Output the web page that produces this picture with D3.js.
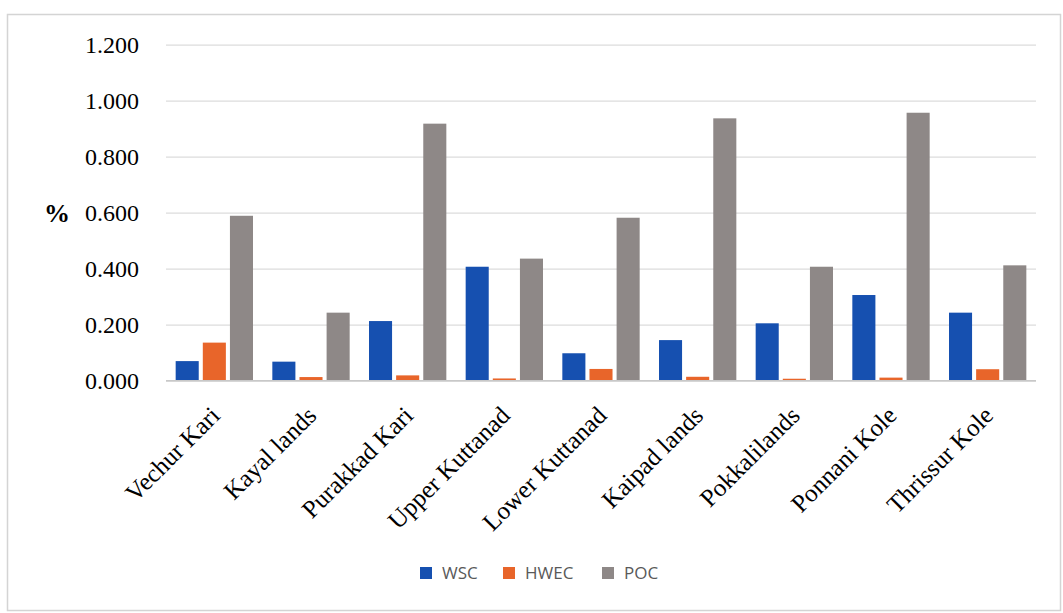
<!DOCTYPE html>
<html>
<head>
<meta charset="utf-8">
<script src="https://cdn.jsdelivr.net/npm/d3@7"></script>
<style>
  body { margin: 0; background: #fff; }
  svg { display: block; }
</style>
</head>
<body>
<svg id="chart" width="1063" height="613"></svg>
<script>
// values
var categories = ['Vechur Kari', 'Kayal lands', 'Purakkad Kari', 'Upper Kuttanad', 'Lower Kuttanad',
    'Kaipad lands', 'Pokkalilands', 'Ponnani Kole', 'Thrissur Kole'];
var seriesNames = ['WSC', 'HWEC', 'POC'];
var wsc = [0.070, 0.068, 0.213, 0.407, 0.098, 0.145, 0.205, 0.306, 0.243];
var hwec = [0.136, 0.013, 0.019, 0.008, 0.042, 0.014, 0.007, 0.011, 0.041];
var poc = [0.589, 0.243, 0.918, 0.436, 0.582, 0.937, 0.407, 0.957, 0.412];
var yTicks = [0, 0.2, 0.4, 0.6, 0.8, 1.0, 1.2];
var colors = ['#1650b0', '#e8652a', '#8e8887'];

var values = [wsc, hwec, poc];
var svg = d3.select('#chart');
var serif = '"Liberation Serif", "Times New Roman", serif';

// outer frame
svg.append('rect').attr('x', 7.5).attr('y', 14.5).attr('width', 1053).attr('height', 596)
    .attr('fill', 'none').attr('stroke', '#d4d4d4').attr('stroke-width', 1.5);

var left = 166, right = 1036;
var y = d3.scaleLinear().domain([0, 1.2]).range([380.7, 44.7]);
var x0 = d3.scaleBand().domain(categories).range([left, right]).paddingInner(0.2).paddingOuter(0.1);
var x1 = d3.scaleBand().domain(seriesNames).range([0, x0.bandwidth()]).paddingInner(0.15);

// grid + tick labels
var yAxis = d3.axisLeft(y).tickValues(yTicks).tickFormat(d3.format('.3f'))
    .tickSize(-(right - left)).tickPadding(27);
var ga = svg.append('g').attr('transform', 'translate(' + left + ',0)').call(yAxis);
ga.select('.domain').remove();
ga.selectAll('.tick line').attr('stroke', '#dcdcdc').attr('stroke-width', 1.3);
ga.selectAll('.tick text').attr('fill', '#000').style('font-family', serif)
    .style('font-size', '24px');

svg.append('text').attr('x', 44).attr('y', y(0.6)).attr('dy', '0.35em')
    .style('font-family', serif).style('font-size', '26px').style('font-weight', 'bold')
    .attr('fill', '#000').text('%');

// bars
var groups = svg.append('g').selectAll('g').data(categories).enter().append('g')
    .attr('transform', function (c) { return 'translate(' + x0(c) + ',0)'; });
groups.selectAll('rect').data(function (c, i) {
    return seriesNames.map(function (s, j) { return {s: s, v: values[j][i], j: j}; });
}).enter().append('rect')
    .attr('x', function (d) { return x1(d.s); })
    .attr('y', function (d) { return y(d.v); })
    .attr('width', x1.bandwidth())
    .attr('height', function (d) { return y(0) - y(d.v); })
    .attr('fill', function (d) { return colors[d.j]; });

// baseline
svg.append('line').attr('x1', left).attr('x2', right).attr('y1', y(0)).attr('y2', y(0))
    .attr('stroke', '#c8c8c8').attr('stroke-width', 1.5);

// category labels, rotated
svg.append('g').selectAll('text').data(categories).enter().append('text')
    .attr('transform', function (c) {
        return 'translate(' + (x0(c) + x0.bandwidth() / 2 + 7) + ',' + 417 + ') rotate(-45)';
    })
    .attr('text-anchor', 'end')
    .style('font-family', serif).style('font-size', '25px')
    .attr('fill', '#000')
    .text(function (c) { return c; });

// legend
var legendX = [420, 503, 602];
var lg = svg.append('g').selectAll('g').data(seriesNames).enter().append('g')
    .attr('transform', function (s, i) { return 'translate(' + legendX[i] + ',567)'; });
lg.append('rect').attr('width', 12).attr('height', 12)
    .attr('fill', function (s, i) { return colors[i]; });
lg.append('text').attr('x', 22).attr('y', 6).attr('dy', '0.36em')
    .style('font-family', '"Open Sans", "Noto Sans", sans-serif').style('font-size', '17px')
    .attr('fill', '#595959')
    .text(function (s) { return s; });
</script>
</body>
</html>
